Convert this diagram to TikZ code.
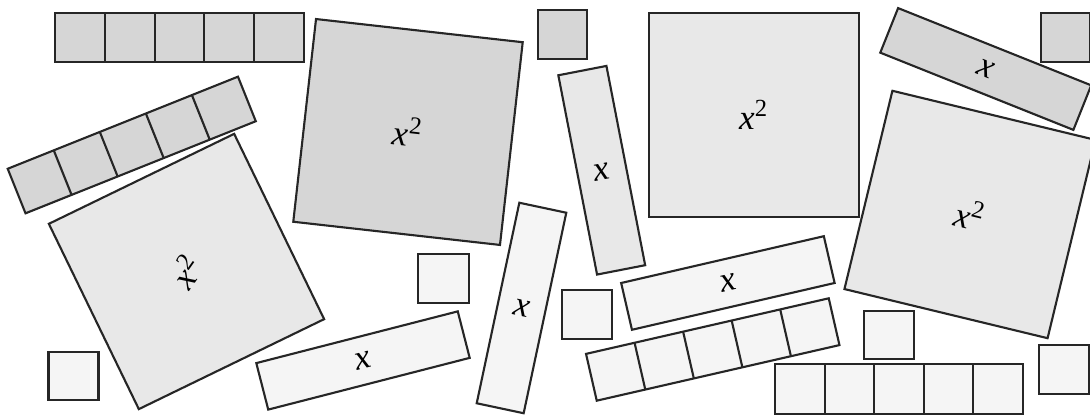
\documentclass[tikz,border=0pt]{standalone}
\usepackage{fontspec}
\setmainfont{Liberation Serif}
\usetikzlibrary{calc}
\definecolor{tA}{gray}{0.84}
\definecolor{tB}{gray}{0.91}
\definecolor{tC}{gray}{0.96}
\tikzset{
  tile/.style 2 args={draw=black!85, line width=0.6pt, inner sep=0pt, outer sep=0pt,
    minimum width=#1*0.01cm, minimum height=#2*0.01cm, font=\fontsize{10}{12}\selectfont},
  divider/.style={draw=black!85, line width=0.6pt}
}
\newcommand{\xsq}{\textit{x}\textsuperscript{2}}
\newcommand{\xx}{\textit{x}}
\begin{document}
\begin{tikzpicture}[x=0.01cm, y=-0.01cm]
\useasboundingbox (0,0) rectangle (1090,416);
\clip (0,0) rectangle (1090,416);
\fill[white] (0,0) rectangle (1090,416);

% strips of five unit tiles
\node[tile={249}{49}, fill=tA] (s1) at (179.5,37.5) {};
\node[tile={248}{48}, rotate=21.8, fill=tA] (s2) at (131.75,145) {};
\node[tile={249}{48}, rotate=12.9, fill=tC] (s3) at (712.75,349.5) {};
\node[tile={248}{50}, fill=tC] (s4) at (899,389) {};
\foreach \s in {s1,s2,s3,s4}
  \foreach \f in {0.2,0.4,0.6,0.8}
    \draw[divider] ($(\s.north west)!\f!(\s.north east)$) -- ($(\s.south west)!\f!(\s.south east)$);

% x^2 tiles
\node[tile={206}{206}, rotate=25.9, fill=tB] (q1) at (186.5,271.5) {\rotatebox{29}{\xsq}};
\node[tile={208}{204}, rotate=-6.4, fill=tA] (q2) at (408,132) {\raisebox{-1.2ex}{\xsq}};
\node[tile={210}{204}, fill=tB] (q3) at (754,115) {\xsq};
\node[tile={209}{204}, rotate=-13.6, fill=tB] (q4) at (970,214.5) {\raisebox{-0.8ex}{\xsq}};

% x tiles
\node[tile={49}{203}, rotate=11, fill=tB] (b1) at (601.75,170.25) {\raisebox{-1.2ex}{\xx}};
\node[tile={48}{205}, rotate=-12, fill=tC] (b2) at (521.5,308) {\xx};
\node[tile={208}{48}, rotate=14.4, fill=tC] (b3) at (363,360.5) {\xx};
\node[tile={208}{48}, rotate=13.0, fill=tC] (b4) at (727.9,283) {\xx};
\node[tile={208}{48}, rotate=-21.8, fill=tA] (b5) at (985.75,69) {\xx};

% unit tiles
\node[tile={50}{48}, fill=tC] (u1) at (73.5,376) {};
\node[tile={49}{49}, fill=tA] (u2) at (562.5,34.5) {};
\node[tile={51}{49}, fill=tC] (u3) at (443.5,278.5) {};
\node[tile={50}{49}, fill=tC] (u4) at (587,314.5) {};
\node[tile={49}{49}, fill=tA] (u5) at (1065.5,37.5) {};
\node[tile={50}{48}, fill=tC] (u6) at (889,335) {};
\node[tile={50}{49}, fill=tC] (u7) at (1064,369.5) {};
\end{tikzpicture}
\end{document}
